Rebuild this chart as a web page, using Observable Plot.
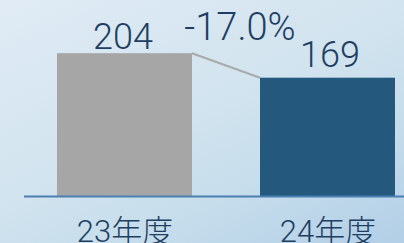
<!DOCTYPE html>
<html><head><meta charset="utf-8">
<script src="https://cdn.jsdelivr.net/npm/d3@7"></script>
<script src="https://cdn.jsdelivr.net/npm/@observablehq/plot@0.6"></script>
<style>
html,body{margin:0;padding:0;width:404px;height:243px;overflow:hidden;}
body{background:linear-gradient(155deg,#e0ebf5 0%,#d2e4ef 45%,#c6ddeb 70%,#b2cfe7 100%);}
#chart svg{display:block;}
</style></head><body><div id="chart"></div>
<script>
const categories = ["23年度", "24年度"];
const values = [204, 169];
const changeLabel = "-17.0%";
const barColors = ["#a6a6a6", "#24597d"];

const data = categories.map((c, i) => ({category: c, value: values[i], color: barColors[i]}));
const font = "Roboto, 'Noto Sans CJK JP', sans-serif";
const textColor = "#1f3f62";

const connector = (index, scales) => {
  const x = scales.x, y = scales.y;
  const bw = x.bandwidth();
  return d3.create("svg:line")
    .attr("x1", x(categories[0]) + bw).attr("y1", y(values[0]))
    .attr("x2", x(categories[1])).attr("y2", y(values[1]))
    .attr("stroke", "#a9a9a9").attr("stroke-width", 2)
    .node();
};

const valueLabel = (i, dy, dx) => Plot.text([data[i]], {
  x: "category", y: "value", text: d => String(d.value),
  lineAnchor: "bottom", dx, dy, fontSize: 36, fontWeight: 300, fill: textColor,
  style: "letter-spacing:1.2px"
});

const chart = Plot.plot({
  width: 404, height: 243,
  marginLeft: 24, marginRight: 0, marginTop: 0, marginBottom: 47,
  style: {background: "transparent", fontFamily: font, color: textColor},
  x: {domain: categories, range: [57, 395], paddingInner: 0.335, paddingOuter: 0, label: null},
  y: {domain: [0, 280], axis: null},
  color: {type: "identity"},
  marks: [
    Plot.barY(data, {x: "category", y: "value", fill: "color"}),
    connector,
    Plot.ruleY([0], {stroke: "#4a7fb1", strokeWidth: 2}),
    valueLabel(0, -5, -2),
    valueLabel(1, -11.5, 2),
    Plot.text([{category: categories[0], value: values[0], label: changeLabel}], {x: "category", y: "value", text: "label", lineAnchor: "bottom", dx: 115, dy: -14, fontSize: 38, fontWeight: 300, fill: textColor, style: "letter-spacing:-1.6px"}),
    Plot.axisX({tickSize: 0, tickPadding: 23, fontSize: 31, fontWeight: 300, fill: textColor, label: null})
  ]
});
document.getElementById("chart").append(chart);
</script></body></html>
